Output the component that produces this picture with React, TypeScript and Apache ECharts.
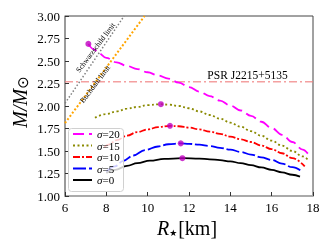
import React, { useEffect, useRef } from "react";
import * as echarts from "echarts";

const xTicks = [6, 8, 10, 12, 14, 16, 18];
const yTicks = [1.0, 1.25, 1.5, 1.75, 2.0, 2.25, 2.5, 2.75, 3.0];

const R20 = [7.13, 7.4, 7.61, 8.0, 8.5, 9.0, 9.5, 10.0, 10.5, 11.0, 11.5, 12.0, 12.5, 13.0, 13.5, 14.0, 14.5, 15.0, 15.5, 16.0, 16.5, 17.0, 17.5, 17.85];
const M20 = [2.69, 2.63, 2.59, 2.535, 2.485, 2.445, 2.41, 2.375, 2.34, 2.305, 2.26, 2.21, 2.16, 2.11, 2.06, 2.005, 1.95, 1.89, 1.825, 1.755, 1.68, 1.6, 1.515, 1.44];

const R15 = [7.45, 8.0, 8.5, 9.0, 9.5, 10.0, 10.64, 11.0, 11.5, 12.0, 12.5, 13.0, 13.5, 14.0, 14.5, 15.0, 15.5, 16.0, 16.5, 17.0, 17.5, 17.77];
const M15 = [1.87, 1.91, 1.94, 1.97, 1.99, 2.01, 2.02, 2.015, 2.0, 1.975, 1.94, 1.9, 1.86, 1.815, 1.77, 1.72, 1.67, 1.615, 1.56, 1.5, 1.44, 1.4];

const R10 = [7.9, 8.1, 8.5, 9.0, 9.5, 10.0, 10.5, 11.08, 11.5, 12.0, 12.5, 13.0, 13.5, 14.0, 14.5, 15.0, 15.5, 16.0, 16.5, 17.0, 17.6];
const M10 = [1.54, 1.57, 1.62, 1.67, 1.71, 1.74, 1.765, 1.78, 1.775, 1.76, 1.74, 1.715, 1.69, 1.66, 1.63, 1.6, 1.56, 1.52, 1.475, 1.42, 1.33];

const R5 = [8.0, 8.42, 8.82, 9.3, 9.87, 10.5, 11.0, 11.6, 12.0, 12.5, 13.0, 13.5, 14.0, 14.5, 15.0, 15.5, 16.0, 16.5, 17.0, 17.45];
const M5 = [1.27, 1.33, 1.39, 1.45, 1.51, 1.55, 1.575, 1.585, 1.58, 1.57, 1.555, 1.535, 1.515, 1.49, 1.46, 1.43, 1.4, 1.36, 1.32, 1.275];

const R0 = [8.0, 8.42, 9.0, 9.5, 10.11, 10.8, 11.68, 12.5, 13.0, 13.5, 14.0, 14.5, 15.0, 15.5, 16.0, 16.5, 17.0, 17.37];
const M0 = [1.255, 1.29, 1.335, 1.365, 1.393, 1.412, 1.42, 1.415, 1.408, 1.398, 1.385, 1.365, 1.342, 1.317, 1.29, 1.263, 1.236, 1.215];

const peakR = [7.13, 10.64, 11.08, 11.6, 11.68];
const peakM = [2.69, 2.02, 1.78, 1.585, 1.42];

const schwR = [6.0, 8.86];
const schwM = [2.03, 3.0];
const buchR = [6.0, 9.85];
const buchM = [1.81, 3.0];

const psrR = [6, 18];
const psrM = [2.27, 2.27];
const psrLabel = "PSR J2215+5135";

const legendLabels = ["20", "15", "10", "5", "0"];

const zip = (a: number[], b: number[]) => a.map((v, i) => [v, b[i]]);

const SERIF = "Liberation Serif";

const styles = [
  { color: "#ff00ff", type: [11, 5] as any },
  { color: "#8a8a00", type: [2, 2.5] as any },
  { color: "#ff0000", type: [7, 2, 2, 2] as any },
  { color: "#0000ff", type: [13, 3] as any },
  { color: "#000000", type: "solid" as any },
];

export default function App() {
  const ref = useRef<HTMLDivElement>(null);
  useEffect(() => {
    if (!ref.current) return;
    const chart = echarts.init(ref.current, undefined, { renderer: "svg" });
    const curves = [zip(R20, M20), zip(R15, M15), zip(R10, M10), zip(R5, M5), zip(R0, M0)];

    const legendItems: any[] = [];
    legendLabels.forEach((lab, i) => {
      const y = 134 + i * 11.5;
      legendItems.push({
        type: "line",
        shape: { x1: 73, y1: y, x2: 92, y2: y },
        style: { stroke: styles[i].color, lineWidth: 2, lineDash: styles[i].type === "solid" ? null : styles[i].type },
        z: 101,
      });
      legendItems.push({
        type: "text",
        x: 97,
        y: y,
        style: {
          text: `{i|σ}{n|=${lab}}`,
          verticalAlign: "middle",
          align: "left",
          rich: {
            i: { fontFamily: SERIF, fontStyle: "italic", fontSize: 11, fill: "#000" },
            n: { fontFamily: SERIF, fontSize: 11, fill: "#000" },
          },
        },
        z: 101,
      });
    });

    const option: any = {
      animation: false,
      grid: { left: 65, right: 19, top: 16, bottom: 53, show: true, borderColor: "#444", borderWidth: 1 },
      xAxis: {
        type: "value",
        min: xTicks[0],
        max: xTicks[xTicks.length - 1],
        interval: 2,
        splitLine: { show: false },
        axisLine: { show: true, lineStyle: { color: "#aaa", width: 2 } },
        axisTick: { show: true, inside: true, length: 4, lineStyle: { color: "#333" } },
        axisLabel: { fontFamily: SERIF, fontSize: 13, color: "#000", margin: 5 },
      },
      yAxis: {
        type: "value",
        min: yTicks[0],
        max: yTicks[yTicks.length - 1],
        interval: 0.25,
        splitLine: { show: false },
        axisLine: { show: true, lineStyle: { color: "#999", width: 1.5 } },
        axisTick: { show: true, inside: true, length: 4, lineStyle: { color: "#333" } },
        axisLabel: { fontFamily: SERIF, fontSize: 13, color: "#000", margin: 5, formatter: (v: number) => v.toFixed(2) },
      },
      series: [
        {
          type: "line",
          data: zip(schwR, schwM),
          showSymbol: false,
          symbol: "none",
          lineStyle: { color: "#808080", width: 1.5, type: [1.5, 2] },
          z: 2,
        },
        {
          type: "line",
          data: zip(buchR, buchM),
          showSymbol: false,
          symbol: "none",
          lineStyle: { color: "#ffa500", width: 2, type: [2, 2] },
          z: 2,
        },
        {
          type: "line",
          data: zip(psrR, psrM),
          showSymbol: false,
          symbol: "none",
          lineStyle: { color: "#f08080", opacity: 0.75, width: 1.5, type: [8, 3, 2, 3] },
          z: 2,
        },
        ...curves.map((d, i) => ({
          type: "line",
          data: d,
          showSymbol: false,
          symbol: "none",
          smooth: 0.4,
          smoothMonotone: "x",
          lineStyle: { color: styles[i].color, width: 1.8, type: styles[i].type },
          z: 3,
        })),
        {
          type: "scatter",
          data: zip(peakR, peakM),
          symbol: "circle",
          symbolSize: 6,
          itemStyle: { color: "#bf00bf" },
          z: 5,
        },
      ],
      graphic: [
        {
          type: "rect",
          shape: { x: 68.5, y: 128.5, width: 55, height: 63, r: 3 },
          style: { fill: "rgba(255,255,255,0.8)", stroke: "#d0d0d0", lineWidth: 1 },
          z: 100,
        },
        ...legendItems,
        {
          type: "text",
          x: 247.5,
          y: 75,
          style: { text: psrLabel, fontFamily: SERIF, fontSize: 11.5, fill: "#000", align: "center", verticalAlign: "middle" },
          z: 50,
        },
        {
          type: "text",
          x: 95.5,
          y: 47.5,
          rotation: (53 * Math.PI) / 180,
          style: { text: "Schwarzschild limit", fontFamily: SERIF, fontSize: 7.5, fill: "#000", align: "center", verticalAlign: "middle" },
          z: 50,
        },
        {
          type: "text",
          x: 95,
          y: 84,
          rotation: (53 * Math.PI) / 180,
          style: { text: "Buchdahl limit", fontFamily: SERIF, fontSize: 7.5, fill: "#000", align: "center", verticalAlign: "middle" },
          z: 50,
        },
        {
          type: "text",
          x: 20,
          y: 102,
          rotation: Math.PI / 2,
          style: {
            text: "{i|M/M}{o|⊙}",
            align: "center",
            verticalAlign: "middle",
            rich: {
              i: { fontFamily: SERIF, fontStyle: "italic", fontSize: 20, fill: "#000" },
              o: { fontFamily: "DejaVu Sans", fontSize: 15, fill: "#000", padding: [6, 0, 0, 0] },
            },
          },
          z: 50,
        },
        {
          type: "text",
          x: 187,
          y: 228,
          style: {
            text: "{i|R}{s|★}{n|[km]}",
            align: "center",
            verticalAlign: "middle",
            rich: {
              i: { fontFamily: SERIF, fontStyle: "italic", fontSize: 20, fill: "#000" },
              s: { fontFamily: "DejaVu Sans", fontSize: 9, fill: "#000", padding: [9, 1, 0, 0] },
              n: { fontFamily: SERIF, fontSize: 20, fill: "#000" },
            },
          },
          z: 50,
        },
      ],
    };
    chart.setOption(option);
    return () => chart.dispose();
  }, []);
  return <div ref={ref} style={{ position: "fixed", left: 0, top: 0, width: 332, height: 249 }} />;
}
